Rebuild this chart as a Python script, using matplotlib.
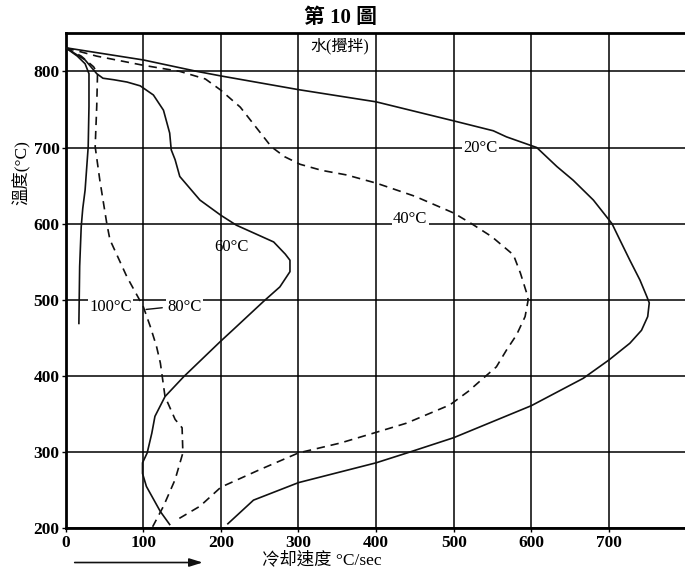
import matplotlib
matplotlib.use("Agg")
import matplotlib.pyplot as plt

# ---- data (cooling rate °C/sec vs temperature °C) ----
t20 = [831, 823, 815, 800, 794, 776, 760, 735, 722, 714, 700, 675, 657, 631, 600, 579, 552, 526, 504, 496, 478, 460, 443, 421, 397, 361, 319, 299, 286, 260, 237, 206]
r20 = [0, 50, 100, 169, 200, 300, 400, 500, 551, 568, 607, 633, 654, 680, 704, 714, 727, 740, 749, 752, 750, 742, 727, 700, 667, 600, 500, 440, 400, 300, 242, 209]

t40 = [831, 820, 808, 800, 790, 776, 753, 701, 688, 678, 670, 664, 653, 636, 614, 600, 583, 559, 535, 509, 500, 478, 454, 434, 412, 397, 380, 362, 338, 326, 312, 299, 277, 254, 229, 211]
r40 = [0, 40, 100, 147, 180, 199, 225, 265, 282, 302, 330, 362, 401, 450, 500, 523, 549, 577, 586, 594, 596, 592, 581, 568, 555, 538, 519, 495, 439, 400, 354, 300, 250, 200, 173, 143]

t60 = [831, 815, 797, 791, 789, 786, 781, 769, 749, 719, 697, 684, 662, 631, 611, 598, 576, 560, 552, 537, 517, 498, 461, 445, 399, 373, 347, 325, 299, 286, 272, 255, 222, 205]
r60 = [0, 25, 40, 48, 62, 79, 96, 113, 126, 134, 136, 141, 147, 173, 200, 220, 268, 283, 289, 289, 276, 255, 216, 199, 152, 128, 115, 111, 105, 99, 99, 104, 122, 134]

t80 = [831, 820, 806, 797, 754, 701, 657, 600, 579, 530, 491, 465, 439, 417, 373, 343, 332, 299, 264, 229, 202]
r80 = [0, 20, 36, 41, 40, 38, 44, 53, 57, 79, 100, 109, 117, 122, 128, 141, 150, 151, 141, 126, 112]

t100 = [831, 820, 810, 797, 754, 701, 644, 620, 596, 570, 544, 469]
r100 = [0, 15, 25, 30, 30, 29, 25, 22, 20, 19, 18, 17]

xticks = [0, 100, 200, 300, 400, 500, 600, 700]
yticks = [200, 300, 400, 500, 600, 700, 800]

serif = "Liberation Serif"
cjk = ["Liberation Serif", "Noto Sans CJK TC", "DejaVu Sans"]

fig = plt.figure(figsize=(6.85, 5.74), dpi=100)
ax = fig.add_axes([0.0959, 0.0796, 0.9063, 0.8624])
ax.set_xlim(0, 800)
ax.set_ylim(200, 850)

ax.set_xticks(xticks)
ax.set_yticks(yticks)
ax.set_xticklabels([str(v) for v in xticks], fontfamily=serif, fontweight="bold", fontsize=12.5)
ax.set_yticklabels([str(v) for v in yticks], fontfamily=serif, fontweight="bold", fontsize=12.5)
ax.tick_params(axis="both", length=3, width=1, pad=1.5, color="black")
ax.grid(True, color="black", linewidth=1.1)
ax.set_axisbelow(True)
for side in ["left", "top", "bottom"]:
    ax.spines[side].set_linewidth(2.0)
ax.spines["right"].set_linewidth(1.2)

lc = "#111111"
ax.plot(r20, t20, color=lc, lw=1.2, zorder=3)
ax.plot(r40, t40, color=lc, lw=1.2, linestyle=(0, (5, 3.5)), zorder=3)
ax.plot(r60, t60, color=lc, lw=1.2, zorder=3)
ax.plot(r80, t80, color=lc, lw=1.2, linestyle=(0, (5, 3.5)), zorder=3)
ax.plot(r100, t100, color=lc, lw=1.2, zorder=3)

box = dict(facecolor="white", edgecolor="none", pad=1.0)
lbl = dict(fontfamily=serif, fontsize=12, ha="center", va="center", zorder=4)
ax.text(534, 700, "20°C", bbox=box, **lbl)
ax.text(444, 606, "40°C", bbox=box, **lbl)
ax.text(214, 570, "60°C", **lbl)
ax.text(58, 491, "100°C", bbox=box, **lbl)
ax.text(153, 491, "80°C", bbox=box, **lbl)
ax.annotate("", xy=(100, 487), xytext=(128, 490),
            arrowprops=dict(arrowstyle="-", color=lc, lw=1.0), zorder=4)

ax.text(353, 833, "水(攪拌)", family=cjk, fontsize=11.5, ha="center", va="center",
        bbox=dict(facecolor="white", edgecolor="none", pad=1.5), zorder=4)

fig.text(0.497, 0.968, "第 10 圖", family=["Liberation Serif", "Noto Sans CJK TC"],
         fontweight="bold", fontsize=15, ha="center", va="center")
fig.text(0.032, 0.70, "溫度(°C)", family=cjk, fontsize=12.5, rotation=90,
         ha="center", va="center")
fig.text(0.47, 0.024, "冷却速度 °C/sec", family=cjk, fontsize=12.5,
         ha="center", va="center")
fig.add_artist(matplotlib.patches.FancyArrowPatch(
    (0.105, 0.020), (0.300, 0.020), transform=fig.transFigure,
    arrowstyle="-|>,head_length=8,head_width=2.5", color=lc, lw=1.2))

fig.savefig("out.png", dpi=100, facecolor="white")
